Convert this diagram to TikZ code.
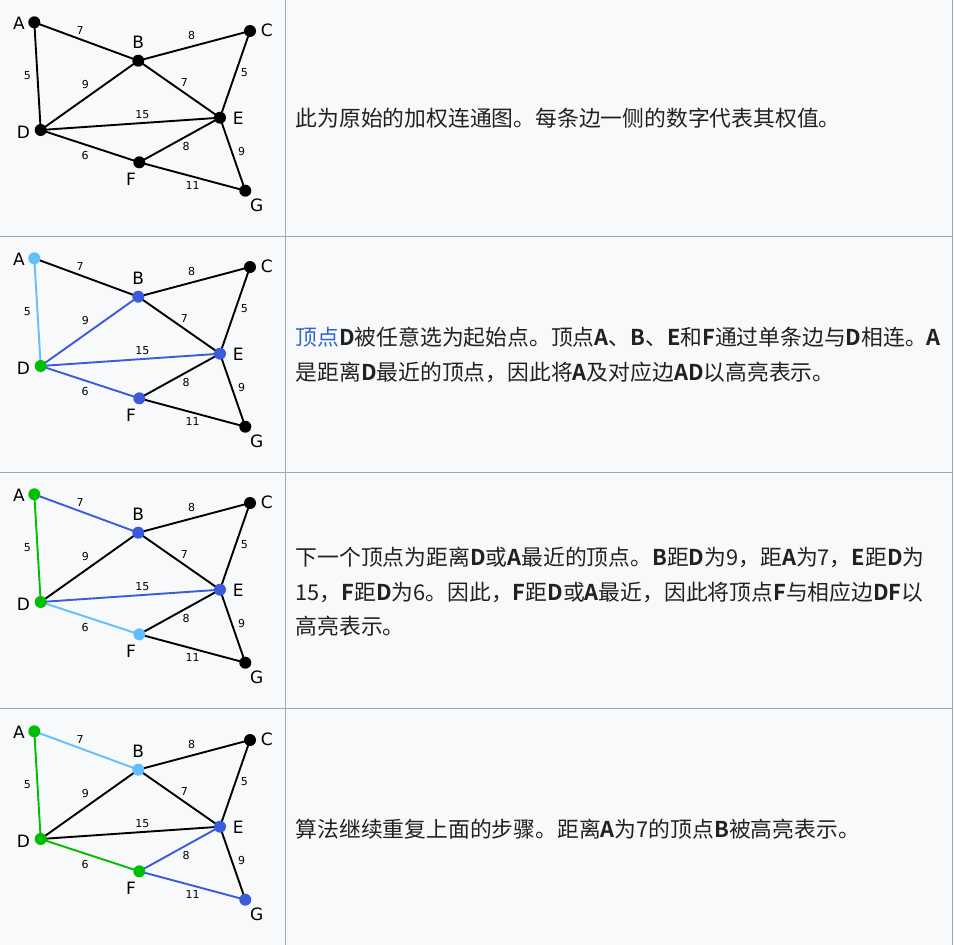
\documentclass[tikz,border=0pt]{standalone}
\usepackage{fontspec}
\setmainfont{DejaVu Sans}
\newfontfamily\cjk{Noto Sans CJK SC}[BoldFont={Noto Sans CJK SC Bold}]
\definecolor{bgc}{HTML}{F8F9FA}
\definecolor{rulec}{HTML}{A2A9B1}
\definecolor{lb}{HTML}{62BEFF}
\definecolor{bl}{HTML}{3A5BDB}
\definecolor{gr}{HTML}{00BF00}
\definecolor{linkc}{HTML}{3366CC}
\definecolor{txt}{HTML}{202122}
\tikzset{
  dot/.style={circle,inner sep=0pt,minimum size=12pt},
  edge/.style={line width=1.9pt},
  vlabel/.style={font=\fontsize{17}{17}\selectfont,inner sep=0pt},
  wlabel/.style={font=\fontsize{11}{11}\selectfont,inner sep=0pt},
  desc/.style={anchor=west,align=left,inner sep=0pt,text=txt,font=\cjk\fontsize{21.8}{34.5}\selectfont},
}
\newcommand{\setcols}[2]{%
  \foreach \n/\c in {#1} {\xglobal\colorlet{n\n}{\c}}%
  \foreach \n/\c in {#2} {\xglobal\colorlet{e\n}{\c}}%
}
\newcommand{\drawgraph}{%
  \coordinate (A) at (34.3,22.3);
  \coordinate (B) at (138.3,60.7);
  \coordinate (C) at (250,31);
  \coordinate (D) at (40.7,130);
  \coordinate (E) at (220,117.7);
  \coordinate (F) at (139.3,162.3);
  \coordinate (G) at (245.3,190.7);
  \draw[edge,draw=eAB] (A) -- (B);
  \draw[edge,draw=eAD] (A) -- (D);
  \draw[edge,draw=eBC] (B) -- (C);
  \draw[edge,draw=eBD] (B) -- (D);
  \draw[edge,draw=eBE] (B) -- (E);
  \draw[edge,draw=eCE] (C) -- (E);
  \draw[edge,draw=eDE] (D) -- (E);
  \draw[edge,draw=eDF] (D) -- (F);
  \draw[edge,draw=eEF] (E) -- (F);
  \draw[edge,draw=eEG] (E) -- (G);
  \draw[edge,draw=eFG] (F) -- (G);
  \node[dot,fill=nA] (vA) at (A) {};
  \node[dot,fill=nB] (vB) at (B) {};
  \node[dot,fill=nC] (vC) at (C) {};
  \node[dot,fill=nD] (vD) at (D) {};
  \node[dot,fill=nE] (vE) at (E) {};
  \node[dot,fill=nF] (vF) at (F) {};
  \node[dot,fill=nG] (vG) at (G) {};
  \node[vlabel] (lA) at (19,23) {A};
  \node[vlabel] (lB) at (138.3,42.7) {B};
  \node[vlabel] (lC) at (266.7,30) {C};
  \node[vlabel] (lD) at (23.3,132.7) {D};
  \node[vlabel] (lE) at (238.3,118.3) {E};
  \node[vlabel] (lF) at (131,179) {F};
  \node[vlabel] (lG) at (256.7,205.7) {G};
  \node[wlabel] (wAB) at (80,30) {7};
  \node[wlabel] (wBC) at (191.7,35.7) {8};
  \node[wlabel] (wAD) at (27.3,76) {5};
  \node[wlabel] (wBD) at (85.3,84) {9};
  \node[wlabel] (wBE) at (184.3,82.3) {7};
  \node[wlabel] (wCE) at (244.3,72.7) {5};
  \node[wlabel] (wDE) at (142.3,114.7) {15};
  \node[wlabel] (wEF) at (186,146) {8};
  \node[wlabel] (wEG) at (241.7,151.7) {9};
  \node[wlabel] (wDF) at (85,155.7) {6};
  \node[wlabel] (wFG) at (192.7,185) {11};
}
\begin{document}
\begin{tikzpicture}[x=1pt,y=-1pt]
\useasboundingbox (0,0) rectangle (954,945);
\fill[bgc] (0,0) rectangle (954,945);
\draw[rulec,line width=1pt] (0,236) -- (952.5,236) (0,472) -- (952.5,472) (0,708) -- (952.5,708);
\draw[rulec,line width=1pt] (285.3,0) -- (285.3,945) (952.5,0) -- (952.5,945);
% row 1
\setcols{A/black,B/black,C/black,D/black,E/black,F/black,G/black}
        {AB/black,AD/black,BC/black,BD/black,BE/black,CE/black,DE/black,DF/black,EF/black,EG/black,FG/black}
\begin{scope}[name prefix=r1-]
\drawgraph
\end{scope}
% row 2
\setcols{A/lb,B/bl,C/black,D/gr,E/bl,F/bl,G/black}
        {AB/black,AD/lb,BC/black,BD/bl,BE/black,CE/black,DE/bl,DF/bl,EF/black,EG/black,FG/black}
\begin{scope}[shift={(0,236)},name prefix=r2-]
\drawgraph
\end{scope}
% row 3
\setcols{A/gr,B/bl,C/black,D/gr,E/bl,F/lb,G/black}
        {AB/bl,AD/gr,BC/black,BD/black,BE/black,CE/black,DE/bl,DF/lb,EF/black,EG/black,FG/black}
\begin{scope}[shift={(0,472)},name prefix=r3-]
\drawgraph
\end{scope}
% row 4
\setcols{A/gr,B/lb,C/black,D/gr,E/bl,F/gr,G/bl}
        {AB/lb,AD/gr,BC/black,BD/black,BE/black,CE/black,DE/black,DF/gr,EF/bl,EG/black,FG/bl}
\begin{scope}[shift={(0,709)},name prefix=r4-]
\drawgraph
\end{scope}
% descriptions
\node[desc] (t1) at (295.5,118) {此为原始的加权连通图。每条边一侧的数字代表其权值。};
\node[desc] (t2) at (295.5,355) {{\color{linkc}顶点}\textbf{D}被任意选为起始点。顶点\textbf{A}、\textbf{B}、\textbf{E}和\textbf{F}通过单条边与\textbf{D}相连。\textbf{A}\\是距离\textbf{D}最近的顶点，因此将\textbf{A}及对应边\textbf{AD}以高亮表示。};
\node[desc] (t3) at (295.5,592) {下一个顶点为距离\textbf{D}或\textbf{A}最近的顶点。\textbf{B}距\textbf{D}为9，距\textbf{A}为7，\textbf{E}距\textbf{D}为\\15，\textbf{F}距\textbf{D}为6。因此，\textbf{F}距\textbf{D}或\textbf{A}最近，因此将顶点\textbf{F}与相应边\textbf{DF}以\\高亮表示。};
\node[desc] (t4) at (295.5,829) {算法继续重复上面的步骤。距离\textbf{A}为7的顶点\textbf{B}被高亮表示。};
\end{tikzpicture}
\end{document}
